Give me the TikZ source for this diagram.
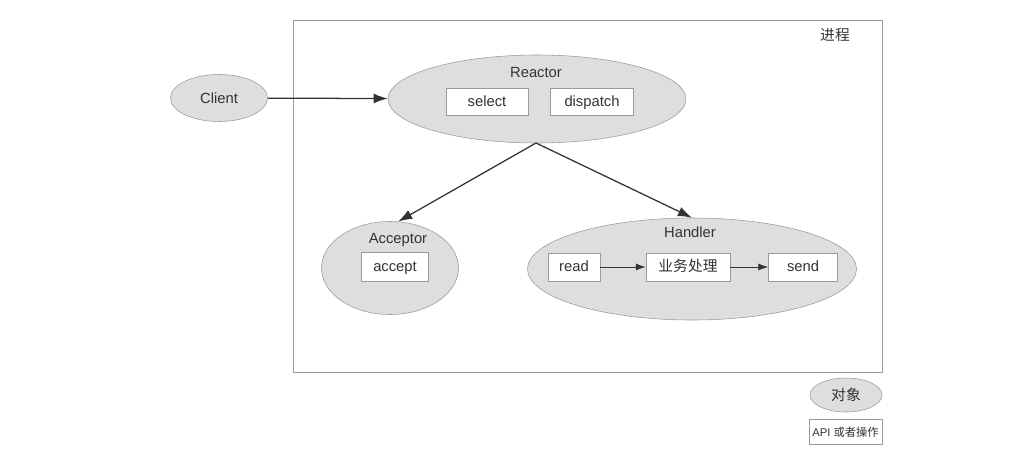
\documentclass[tikz,border=0pt]{standalone}
\usepackage{fontspec}
\setmainfont{Liberation Sans}
\newfontfamily\cjk{Noto Sans CJK SC}
\usetikzlibrary{shapes.geometric, arrows.meta, positioning}

\definecolor{objfill}{HTML}{DEDEDE}
\definecolor{edgegray}{HTML}{9A9A9A}
\definecolor{inkgray}{HTML}{333333}

\begin{document}
\begin{tikzpicture}[x=0.025cm,y=-0.025cm,
        every node/.style={font=\fontsize{10.5}{12}\selectfont, text=inkgray},
        obj/.style={ellipse, draw=edgegray, fill=objfill, inner sep=0pt},
        op/.style={draw=edgegray, fill=white, inner sep=0pt, text height=1.6ex, text depth=0.4ex},
        link/.style={draw=inkgray, line width=0.9pt, -{Latex[length=10pt,width=7pt]}},
        flow/.style={draw=inkgray, line width=0.5pt, -{Latex[length=7pt,width=5pt]}}]
        \useasboundingbox (0,0) rectangle (1033,461);
        % process frame
        \draw [edgegray, line width=0.5pt] (293,20) rectangle (882,372);
        \node (proc) at (835,35) {\cjk 进程};
        % objects
        \node [obj, minimum width=97*0.025cm, minimum height=47*0.025cm] (client) at (219,98) {Client};
        \node [obj, minimum width=298*0.025cm, minimum height=88*0.025cm] (reactor) at (537,99) {};
        \node (reactorlbl) at (536,72) {Reactor};
        \node [op, minimum width=82*0.025cm, minimum height=27*0.025cm] (sel) at (487,102) {select};
        \node [op, minimum width=83*0.025cm, minimum height=27*0.025cm] (disp) at (592,102) {dispatch};
        \node [obj, minimum width=137*0.025cm, minimum height=93*0.025cm] (acceptor) at (390,268) {};
        \node (acceptorlbl) at (398,240) {Acceptor};
        \node [op, minimum width=67*0.025cm, minimum height=29*0.025cm] (acc) at (395,267) {accept};
        \node [obj, minimum width=329*0.025cm, minimum height=102*0.025cm] (handler) at (692,269) {};
        \node (handlerlbl) at (690,232) {Handler};
        \node [op, minimum width=52*0.025cm, minimum height=28*0.025cm] (rd) at (574,267) {read};
        \node [op, minimum width=84*0.025cm, minimum height=28*0.025cm] (biz) at (688,267) {\cjk 业务处理};
        \node [op, minimum width=69*0.025cm, minimum height=28*0.025cm] (snd) at (803,267) {send};
        % legend
        \node [obj, minimum width=72*0.025cm, minimum height=34*0.025cm] (legobj) at (846,395) {\cjk 对象};
        \node [op, minimum width=73*0.025cm, minimum height=25*0.025cm, font=\fontsize{8}{10}\selectfont] (legop) at (845.5,432) {API {\cjk 或者操作}};
        % connectors
        \coordinate (fork) at (536,143);
        \draw [link] (client) -- (reactor);
        \draw [link] (fork) -- (acceptor.80);
        \draw [link] (fork) -- (handler.north);
        \draw [flow] (rd) -- (biz);
        \draw [flow] (biz) -- (snd);
\end{tikzpicture}
\end{document}
